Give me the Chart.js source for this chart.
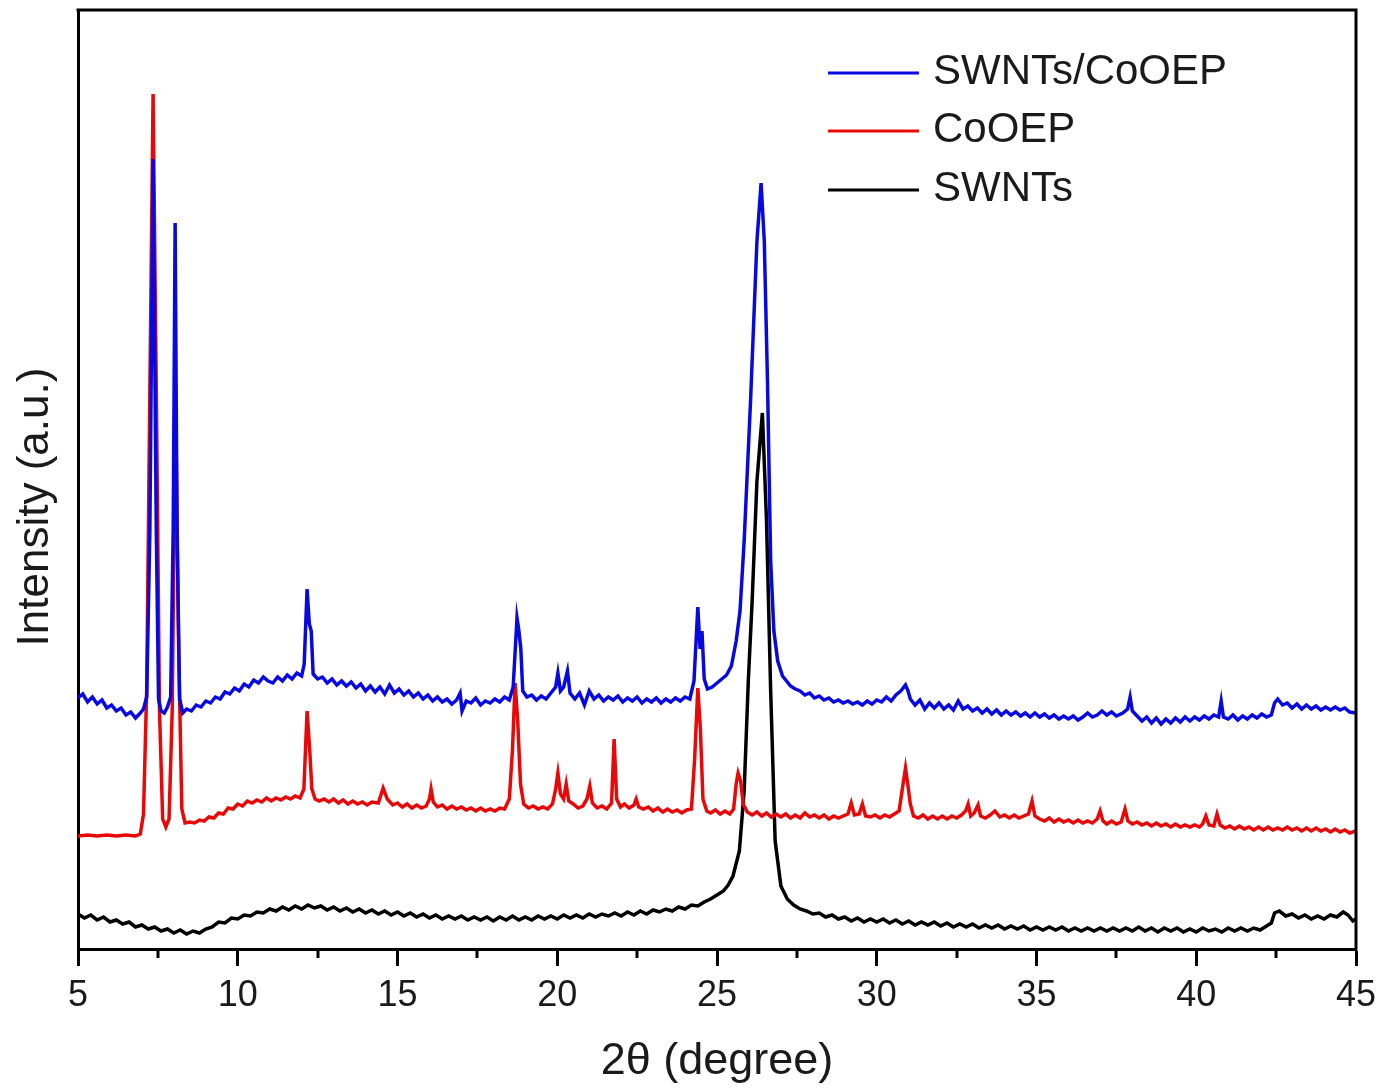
<!DOCTYPE html>
<html>
<head>
<meta charset="utf-8">
<title>XRD patterns</title>
<script src="https://cdn.jsdelivr.net/npm/chart.js@4.4.1/dist/chart.umd.min.js"></script>
<style>
    html, body { margin: 0; padding: 0; background: #fff; }
    canvas { display: block; }
</style>
</head>
<body>
<canvas id="xrdChart" width="1389" height="1090"></canvas>
<script>
// 2-theta positions (degree) and intensities (a.u.)
const blueAngles = [
    5.00, 5.15, 5.30, 5.45, 5.60, 5.75, 5.90, 6.05, 6.20, 6.35, 6.50, 6.65, 6.80, 6.95, 7.05, 7.15, 7.25, 7.35, 7.45, 7.52,
    7.60, 7.70, 7.80, 7.90, 7.98, 8.04, 8.10, 8.18, 8.28, 8.40, 8.55, 8.70, 8.85, 9.00, 9.15, 9.30, 9.45, 9.60, 9.75, 9.90,
    10.05, 10.20, 10.35, 10.50, 10.65, 10.80, 10.95, 11.10, 11.25, 11.40, 11.55, 11.70, 11.85, 12.00, 12.08, 12.17, 12.24, 12.30, 12.36, 12.50,
    12.65, 12.80, 12.95, 13.10, 13.25, 13.40, 13.55, 13.70, 13.85, 14.00, 14.15, 14.30, 14.45, 14.60, 14.75, 14.90, 15.05, 15.20, 15.35, 15.50,
    15.65, 15.80, 15.95, 16.10, 16.25, 16.40, 16.55, 16.70, 16.85, 16.96, 17.02, 17.15, 17.30, 17.45, 17.60, 17.75, 17.90, 18.05, 18.20, 18.35,
    18.50, 18.62, 18.74, 18.80, 18.86, 18.92, 19.05, 19.20, 19.35, 19.50, 19.65, 19.80, 19.95, 20.02, 20.10, 20.20, 20.32, 20.40, 20.55, 20.70,
    20.85, 21.00, 21.15, 21.30, 21.45, 21.60, 21.75, 21.90, 22.05, 22.20, 22.35, 22.50, 22.65, 22.80, 22.95, 23.10, 23.25, 23.40, 23.55, 23.70,
    23.85, 24.00, 24.15, 24.28, 24.40, 24.47, 24.53, 24.60, 24.70, 24.85, 25.00, 25.15, 25.30, 25.45, 25.60, 25.72, 25.85, 25.95, 26.05, 26.15,
    26.25, 26.38, 26.48, 26.58, 26.68, 26.78, 26.90, 27.05, 27.30, 27.45, 27.60, 27.75, 27.90, 28.05, 28.20, 28.35, 28.50, 28.65, 28.80, 28.95,
    29.10, 29.25, 29.40, 29.55, 29.70, 29.85, 30.00, 30.15, 30.30, 30.45, 30.60, 30.75, 30.90, 30.98, 31.05, 31.20, 31.35, 31.50, 31.65, 31.80,
    31.95, 32.10, 32.25, 32.40, 32.55, 32.70, 32.85, 33.00, 33.15, 33.30, 33.45, 33.60, 33.75, 33.90, 34.05, 34.20, 34.35, 34.50, 34.65, 34.80,
    34.95, 35.10, 35.25, 35.40, 35.55, 35.70, 35.85, 36.00, 36.15, 36.30, 36.45, 36.60, 36.75, 36.90, 37.05, 37.20, 37.35, 37.50, 37.70, 37.85,
    37.93, 38.00, 38.15, 38.30, 38.45, 38.60, 38.75, 38.90, 39.05, 39.20, 39.35, 39.50, 39.65, 39.80, 39.95, 40.10, 40.25, 40.40, 40.55, 40.70,
    40.78, 40.85, 41.00, 41.15, 41.30, 41.45, 41.60, 41.75, 41.90, 42.05, 42.20, 42.35, 42.45, 42.55, 42.70, 42.85, 43.00, 43.15, 43.30, 43.45,
    43.60, 43.75, 43.90, 44.05, 44.20, 44.35, 44.50, 44.65, 44.80, 45.00
];
const blueIntensity = [
    251, 255, 247, 252, 245, 249, 241, 244, 238, 241, 234, 237, 231, 236, 240, 252, 420, 790, 420, 250,
    238, 236, 242, 252, 420, 726, 420, 250, 236, 240, 238, 244, 242, 248, 246, 252, 250, 257, 255, 261,
    258, 265, 262, 269, 266, 272, 268, 266, 272, 268, 274, 270, 276, 273, 285, 360, 325, 318, 275, 270,
    272, 266, 270, 264, 268, 263, 267, 261, 265, 258, 263, 257, 262, 255, 264, 256, 260, 254, 258, 252,
    256, 250, 254, 248, 252, 247, 250, 245, 249, 256, 238, 248, 246, 251, 244, 248, 246, 250, 247, 252,
    249, 262, 331, 318, 300, 258, 252, 254, 249, 253, 250, 256, 262, 276, 258, 262, 278, 256, 250, 256,
    244, 258, 250, 254, 248, 252, 249, 253, 247, 251, 248, 252, 246, 250, 247, 251, 246, 250, 247, 251,
    248, 252, 250, 268, 342, 300, 318, 270, 260, 262, 266, 270, 274, 283, 308, 338, 408, 478, 548, 628,
    708, 766, 708, 568, 388, 318, 288, 273, 263, 260, 258, 254, 256, 251, 253, 249, 251, 247, 249, 246,
    248, 245, 247, 244, 248, 245, 249, 247, 252, 248, 254, 258, 264, 258, 250, 244, 249, 240, 246, 241,
    246, 240, 244, 239, 248, 240, 243, 238, 241, 236, 240, 235, 239, 234, 238, 234, 237, 233, 236, 232,
    236, 232, 235, 231, 234, 230, 233, 230, 233, 229, 232, 236, 232, 234, 238, 234, 237, 233, 236, 240,
    252, 238, 233, 228, 232, 226, 231, 225, 230, 226, 231, 227, 232, 228, 232, 229, 233, 230, 234, 232,
    248, 232, 230, 234, 229, 233, 230, 234, 231, 235, 232, 234, 246, 250, 244, 246, 241, 245, 240, 244,
    240, 243, 239, 242, 239, 242, 239, 241, 237, 236
];

const redAngles = [
    5.00, 5.30, 5.60, 5.90, 6.20, 6.50, 6.80, 6.95, 7.05, 7.15, 7.25, 7.35, 7.45, 7.55, 7.65, 7.75, 7.85, 7.95, 8.05, 8.15,
    8.25, 8.35, 8.50, 8.65, 8.80, 8.95, 9.10, 9.25, 9.40, 9.55, 9.70, 9.85, 10.00, 10.15, 10.30, 10.45, 10.60, 10.75, 10.90, 11.05,
    11.20, 11.35, 11.50, 11.65, 11.80, 11.95, 12.07, 12.17, 12.25, 12.32, 12.42, 12.55, 12.70, 12.85, 13.00, 13.15, 13.30, 13.45, 13.60, 13.75,
    13.90, 14.05, 14.20, 14.40, 14.55, 14.68, 14.85, 15.00, 15.15, 15.30, 15.45, 15.60, 15.75, 15.90, 16.00, 16.05, 16.12, 16.25, 16.40, 16.55,
    16.70, 16.85, 17.00, 17.15, 17.30, 17.45, 17.60, 17.75, 17.90, 18.05, 18.20, 18.35, 18.50, 18.60, 18.68, 18.76, 18.85, 18.95, 19.10, 19.25,
    19.40, 19.55, 19.70, 19.85, 19.95, 20.02, 20.10, 20.20, 20.28, 20.36, 20.50, 20.65, 20.80, 20.93, 21.02, 21.10, 21.25, 21.40, 21.55, 21.70,
    21.78, 21.86, 21.98, 22.10, 22.25, 22.40, 22.47, 22.55, 22.70, 22.85, 23.00, 23.15, 23.30, 23.45, 23.60, 23.75, 23.90, 24.05, 24.20, 24.30,
    24.40, 24.48, 24.56, 24.68, 24.80, 24.95, 25.10, 25.25, 25.40, 25.52, 25.60, 25.66, 25.74, 25.82, 25.95, 26.10, 26.25, 26.40, 26.55, 26.70,
    26.85, 27.00, 27.15, 27.30, 27.45, 27.60, 27.75, 27.90, 28.05, 28.20, 28.35, 28.50, 28.65, 28.80, 28.95, 29.10, 29.20, 29.30, 29.45, 29.55,
    29.65, 29.80, 29.95, 30.10, 30.25, 30.40, 30.55, 30.70, 30.80, 30.90, 30.97, 31.05, 31.15, 31.30, 31.45, 31.60, 31.75, 31.90, 32.05, 32.20,
    32.35, 32.50, 32.65, 32.78, 32.86, 32.94, 33.05, 33.17, 33.25, 33.40, 33.55, 33.70, 33.85, 34.00, 34.15, 34.30, 34.45, 34.60, 34.75, 34.86,
    34.95, 35.10, 35.25, 35.40, 35.55, 35.70, 35.85, 36.00, 36.15, 36.30, 36.45, 36.60, 36.75, 36.90, 36.99, 37.08, 37.20, 37.35, 37.50, 37.65,
    37.77, 37.86, 38.00, 38.15, 38.30, 38.45, 38.60, 38.75, 38.90, 39.05, 39.20, 39.35, 39.50, 39.65, 39.80, 39.95, 40.10, 40.20, 40.30, 40.40,
    40.55, 40.65, 40.75, 40.90, 41.05, 41.20, 41.35, 41.50, 41.65, 41.80, 41.95, 42.10, 42.25, 42.40, 42.55, 42.70, 42.85, 43.00, 43.15, 43.30,
    43.45, 43.60, 43.75, 43.90, 44.05, 44.20, 44.35, 44.50, 44.65, 44.80, 45.00
];
const redIntensity = [
    113, 114, 113, 114, 113, 114, 113, 115, 135, 260, 560, 855, 560, 240, 130, 122, 130, 240, 560, 300,
    140, 126, 127, 126, 129, 128, 132, 131, 136, 135, 141, 140, 145, 143, 148, 146, 149, 147, 151, 148,
    151, 149, 152, 150, 153, 151, 160, 238, 200, 160, 150, 148, 150, 147, 150, 146, 149, 145, 148, 145,
    147, 144, 147, 146, 161, 150, 144, 146, 142, 145, 141, 144, 141, 143, 150, 160, 147, 142, 144, 140,
    143, 140, 142, 139, 141, 138, 141, 138, 140, 138, 141, 140, 150, 200, 266, 230, 165, 145, 141, 143,
    140, 142, 140, 145, 160, 176, 155, 150, 165, 148, 145, 141, 143, 150, 163, 146, 141, 143, 140, 146,
    210, 150, 142, 145, 141, 144, 150, 142, 140, 142, 138, 141, 137, 140, 137, 139, 136, 139, 140, 190,
    261, 220, 150, 138, 136, 139, 135, 138, 135, 140, 165, 176, 168, 145, 137, 134, 137, 133, 136, 132,
    135, 132, 135, 131, 134, 131, 136, 132, 134, 131, 134, 130, 133, 131, 133, 135, 146, 134, 135, 145,
    133, 132, 134, 131, 134, 132, 135, 138, 160, 181, 165, 145, 133, 131, 134, 130, 133, 130, 133, 130,
    133, 131, 134, 138, 145, 133, 136, 144, 133, 131, 134, 138, 132, 134, 131, 134, 131, 133, 135, 148,
    133, 130, 128, 131, 127, 130, 127, 129, 126, 129, 126, 128, 126, 130, 138, 128, 125, 128, 125, 127,
    140, 128, 125, 127, 124, 126, 123, 126, 123, 125, 122, 125, 122, 124, 122, 124, 122, 125, 133, 124,
    123, 135, 124, 121, 123, 120, 123, 120, 122, 119, 122, 119, 122, 119, 121, 119, 122, 119, 121, 118,
    121, 118, 121, 118, 120, 117, 120, 117, 119, 116, 118
];

const blackAngles = [
    5.0, 5.2, 5.4, 5.6, 5.8, 6.0, 6.2, 6.4, 6.6, 6.8, 7.0, 7.2, 7.4, 7.6, 7.8, 8.0, 8.2, 8.4, 8.6, 8.8,
    9.0, 9.2, 9.4, 9.6, 9.8, 10.0, 10.2, 10.4, 10.6, 10.8, 11.0, 11.2, 11.4, 11.6, 11.8, 12.0, 12.2, 12.4, 12.6, 12.8,
    13.0, 13.2, 13.4, 13.6, 13.8, 14.0, 14.2, 14.4, 14.6, 14.8, 15.0, 15.2, 15.4, 15.6, 15.8, 16.0, 16.2, 16.4, 16.6, 16.8,
    17.0, 17.2, 17.4, 17.6, 17.8, 18.0, 18.2, 18.4, 18.6, 18.8, 19.0, 19.2, 19.4, 19.6, 19.8, 20.0, 20.2, 20.4, 20.6, 20.8,
    21.0, 21.2, 21.4, 21.6, 21.8, 22.0, 22.2, 22.4, 22.6, 22.8, 23.0, 23.2, 23.4, 23.6, 23.8, 24.0, 24.2, 24.4, 24.6, 24.8,
    25.0, 25.2, 25.35, 25.5, 25.7, 25.85, 25.98, 26.1, 26.25, 26.42, 26.55, 26.68, 26.82, 27.0, 27.2, 27.4, 27.6, 27.8, 28.0, 28.2,
    28.4, 28.6, 28.8, 29.0, 29.2, 29.4, 29.6, 29.8, 30.0, 30.2, 30.4, 30.6, 30.8, 31.0, 31.2, 31.4, 31.6, 31.8, 32.0, 32.2,
    32.4, 32.6, 32.8, 33.0, 33.2, 33.4, 33.6, 33.8, 34.0, 34.2, 34.4, 34.6, 34.8, 35.0, 35.2, 35.4, 35.6, 35.8, 36.0, 36.2,
    36.4, 36.6, 36.8, 37.0, 37.2, 37.4, 37.6, 37.8, 38.0, 38.2, 38.4, 38.6, 38.8, 39.0, 39.2, 39.4, 39.6, 39.8, 40.0, 40.2,
    40.4, 40.6, 40.8, 41.0, 41.2, 41.4, 41.6, 41.8, 42.0, 42.2, 42.35, 42.45, 42.6, 42.8, 43.0, 43.2, 43.4, 43.6, 43.8, 44.0,
    44.2, 44.4, 44.6, 44.75, 44.9, 45.0
];
const blackIntensity = [
    35, 31, 34, 29, 32, 27, 29, 25, 27, 22, 24, 20, 22, 18, 20, 16, 19, 15, 18, 16,
    20, 22, 27, 26, 31, 30, 34, 33, 37, 36, 40, 38, 42, 39, 43, 40, 44, 41, 43, 39,
    42, 38, 41, 37, 40, 36, 39, 35, 38, 34, 37, 33, 36, 32, 35, 31, 34, 30, 33, 30,
    33, 29, 32, 29, 32, 28, 32, 29, 33, 29, 32, 29, 33, 30, 33, 30, 34, 31, 34, 31,
    35, 32, 35, 33, 36, 33, 37, 34, 38, 35, 39, 37, 40, 38, 42, 40, 44, 43, 47, 50,
    54, 58, 64, 73, 98, 158, 268, 348, 468, 536, 428, 258, 108, 63, 50, 44, 40, 38, 35, 36,
    32, 34, 30, 32, 28, 31, 27, 30, 27, 30, 26, 29, 25, 28, 24, 27, 24, 27, 23, 26,
    22, 25, 22, 25, 21, 24, 21, 24, 20, 23, 20, 23, 19, 22, 19, 22, 19, 22, 18, 21,
    18, 21, 18, 21, 18, 21, 18, 21, 18, 22, 18, 21, 17, 21, 18, 21, 17, 20, 17, 21,
    18, 20, 17, 21, 18, 21, 18, 21, 19, 23, 26, 36, 38, 33, 35, 31, 34, 30, 33, 30,
    34, 32, 37, 34, 28, 30
];

const seriesLabels = ['SWNTs/CoOEP', 'CoOEP', 'SWNTs'];
const seriesColors = ['rgb(8, 8, 225)', 'rgb(232, 8, 8)', 'rgb(0, 0, 0)'];
const xTicks = [5, 10, 15, 20, 25, 30, 35, 40, 45];
const xMinorTicks = [7.5, 12.5, 17.5, 22.5, 27.5, 32.5, 37.5, 42.5];

const FONT = '"Liberation Sans", Arial, Helvetica, sans-serif';
const TEXT_COLOR = '#1a1a1a';

function toPoints(xs, ys) {
    return xs.map((x, i) => ({ x: x, y: ys[i] }));
}

// box on top/right, minor ticks, y title and the in-plot legend
const framePlugin = {
    id: 'frame',
    afterDraw(chart) {
        const { ctx, chartArea } = chart;
        const xScale = chart.scales.x;
        ctx.save();
        ctx.strokeStyle = '#000';
        ctx.lineWidth = 3;
        ctx.beginPath();
        ctx.moveTo(chartArea.left - 1.5, chartArea.top);
        ctx.lineTo(chartArea.right, chartArea.top);
        ctx.lineTo(chartArea.right, chartArea.bottom + 1.5);
        ctx.stroke();

        ctx.beginPath();
        xMinorTicks.forEach(v => {
            const px = Math.round(xScale.getPixelForValue(v));
            ctx.moveTo(px, chartArea.bottom);
            ctx.lineTo(px, chartArea.bottom + 9);
        });
        ctx.stroke();

        // y axis title
        ctx.fillStyle = TEXT_COLOR;
        ctx.font = `44px ${FONT}`;
        ctx.textAlign = 'center';
        ctx.textBaseline = 'middle';
        ctx.translate(36, 507);
        ctx.rotate(-Math.PI / 2);
        ctx.fillText('Intensity (a.u.)', 0, 0);
        ctx.restore();

        // legend
        ctx.save();
        const rows = [73, 131, 190];
        chart.data.datasets.forEach((ds, i) => {
            const y = rows[i];
            ctx.strokeStyle = ds.borderColor;
            ctx.lineWidth = 3;
            ctx.beginPath();
            ctx.moveTo(828, y);
            ctx.lineTo(919, y);
            ctx.stroke();
            ctx.fillStyle = TEXT_COLOR;
            ctx.font = `42px ${FONT}`;
            ctx.textAlign = 'left';
            ctx.textBaseline = 'middle';
            ctx.fillText(ds.label, 933, y - 1);
        });
        ctx.restore();
    }
};

document.addEventListener('DOMContentLoaded', () => {
    const ctx = document.getElementById('xrdChart').getContext('2d');
    const seriesData = [
        toPoints(blueAngles, blueIntensity),
        toPoints(redAngles, redIntensity),
        toPoints(blackAngles, blackIntensity)
    ];

    new Chart(ctx, {
        type: 'line',
        data: {
            datasets: seriesLabels.map((label, i) => ({
                label: label,
                data: seriesData[i],
                borderColor: seriesColors[i],
                borderWidth: 3.5,
                pointRadius: 0,
                tension: 0,
                fill: false
            }))
        },
        options: {
            responsive: false,
            animation: false,
            layout: { padding: { top: 10, right: 33, bottom: 0, left: 0 } },
            plugins: {
                legend: { display: false },
                tooltip: { enabled: false }
            },
            scales: {
                x: {
                    type: 'linear',
                    min: 5,
                    max: 45,
                    afterBuildTicks: scale => {
                        scale.ticks = xTicks.map(v => ({ value: v }));
                    },
                    afterFit: scale => { scale.height = 141; },
                    ticks: {
                        color: TEXT_COLOR,
                        font: { family: FONT, size: 36 },
                        padding: 8,
                        maxRotation: 0
                    },
                    grid: {
                        drawOnChartArea: false,
                        tickLength: 17,
                        tickWidth: 3,
                        tickColor: '#000'
                    },
                    border: { display: true, color: '#000', width: 3 },
                    title: {
                        display: true,
                        text: '2θ (degree)',
                        color: TEXT_COLOR,
                        font: { family: FONT, size: 45 },
                        padding: { top: 0, bottom: 1 }
                    }
                },
                y: {
                    min: 0,
                    max: 939,
                    afterFit: scale => { scale.width = 78; },
                    ticks: { display: false },
                    grid: { display: false },
                    border: { display: true, color: '#000', width: 3 }
                }
            }
        },
        plugins: [framePlugin]
    });
});
</script>
</body>
</html>
